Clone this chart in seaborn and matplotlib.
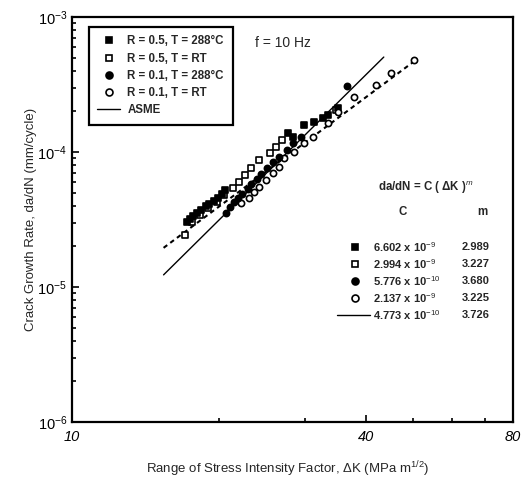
import matplotlib
matplotlib.use("Agg")
import matplotlib.pyplot as plt
from matplotlib.lines import Line2D
from matplotlib.ticker import FixedLocator, FixedFormatter, LogLocator, NullFormatter
import pandas as pd
import seaborn as sns

# ── Data ─────────────────────────────────────────────────────────────────────
# R = 0.5, T = 288 C  (filled squares)
dk_r05_hot = [17.2, 17.45, 17.7, 18.0, 18.4, 18.8, 19.1, 19.5, 19.9, 20.3, 20.6,
              27.7, 28.4, 29.9, 31.3, 32.7, 33.5, 35.1]
rate_r05_hot = [3.03e-5, 3.2e-5, 3.36e-5, 3.55e-5, 3.72e-5, 3.95e-5, 4.12e-5,
                4.35e-5, 4.56e-5, 4.9e-5, 5.2e-5, 1.38e-4,
                1.29e-4, 1.59e-4, 1.67e-4, 1.79e-4, 1.88e-4, 2.12e-4]

# R = 0.5, T = RT  (open squares)
dk_r05_rt = [17.0, 17.6, 18.25, 19.0, 19.8, 20.5, 21.4, 22.0, 22.6, 23.3,
             24.2, 25.4, 26.2, 26.9, 34.7]
rate_r05_rt = [2.43e-5, 3.03e-5, 3.41e-5, 3.85e-5, 4.26e-5, 4.80e-5, 5.41e-5,
               5.99e-5, 6.76e-5, 7.61e-5, 8.72e-5, 9.83e-5, 1.09e-4, 1.23e-4, 2.05e-4]

# R = 0.1, T = 288 C  (filled circles)
dk_r01_hot = [20.7, 21.1, 21.5, 21.9, 22.3, 22.9, 23.3, 23.9, 24.4, 25.1,
              25.8, 26.6, 27.5, 28.4, 29.5, 36.6]
rate_r01_hot = [3.53e-5, 3.91e-5, 4.26e-5, 4.56e-5, 4.89e-5, 5.32e-5, 5.79e-5,
                6.31e-5, 6.87e-5, 7.61e-5, 8.43e-5, 9.18e-5, 1.035e-4, 1.17e-4,
                1.29e-4, 3.08e-4]

# R = 0.1, T = RT  (open circles)
dk_r01_rt = [22.2, 23.0, 23.6, 24.2, 25.0, 25.8, 26.5, 27.2, 28.5, 29.9,
             31.2, 33.5, 35.1, 37.8, 41.9, 45.0, 50.1]
rate_r01_rt = [4.19e-5, 4.56e-5, 5.05e-5, 5.50e-5, 6.20e-5, 6.99e-5, 7.74e-5,
               9.03e-5, 1.0e-4, 1.17e-4, 1.29e-4, 1.64e-4, 1.98e-4, 2.55e-4,
               3.13e-4, 3.85e-4, 4.80e-4]

# ASME reference curve and the dashed fit through the data
dk_asme = [15.4, 43.5]
rate_asme = [1.23e-5, 5.05e-4]
dk_fit = [15.4, 50.6]
rate_fit = [1.95e-5, 4.80e-4]

series_labels = ["R = 0.5, T = 288°C", "R = 0.5, T = RT",
                 "R = 0.1, T = 288°C", "R = 0.1, T = RT"]
law_C = ["6.602 x 10$^{-9}$", "2.994 x 10$^{-9}$", "5.776 x 10$^{-10}$",
         "2.137 x 10$^{-9}$", "4.773 x 10$^{-10}$"]
law_m = ["2.989", "3.227", "3.680", "3.225", "3.726"]

x_major = [10, 40, 80]
x_major_labels = ["10", "40", "80"]
x_minor = [20, 30, 50, 60, 70]
y_major = [1e-6, 1e-5, 1e-4, 1e-3]
y_major_labels = ["$\\mathit{10^{-6}}$", "$\\mathit{10^{-5}}$",
                  "$\\mathit{10^{-4}}$", "$\\mathit{10^{-3}}$"]

# ── Style ────────────────────────────────────────────────────────────────────
sns.set_theme(style="ticks")
plt.rcParams["font.family"] = ["Liberation Sans", "DejaVu Sans"]
plt.rcParams["mathtext.fontset"] = "custom"
plt.rcParams["mathtext.rm"] = "Liberation Sans"
plt.rcParams["mathtext.it"] = "Liberation Sans:italic"
plt.rcParams["mathtext.bf"] = "Liberation Sans:bold"

MARKERS = [("s", "black"), ("s", "white"), ("o", "black"), ("o", "white")]
MS = 20

fig = plt.figure(figsize=(5.32, 4.79), dpi=100)
ax = fig.add_axes([72 / 532, 57 / 479, 441 / 532, 405 / 479])

frames = [
    pd.DataFrame({"dK": dk_r05_rt, "rate": rate_r05_rt}),
    pd.DataFrame({"dK": dk_r05_hot, "rate": rate_r05_hot}),
    pd.DataFrame({"dK": dk_r01_rt, "rate": rate_r01_rt}),
    pd.DataFrame({"dK": dk_r01_hot, "rate": rate_r01_hot}),
]
order = [1, 0, 3, 2]

sns.lineplot(x=dk_fit, y=rate_fit, ax=ax, color="black", lw=1.5,
             linestyle=(0, (2.2, 1.8)), zorder=2)
sns.lineplot(x=dk_asme, y=rate_asme, ax=ax, color="black", lw=1.0, zorder=2)

for df, idx in zip(frames, order):
    mk, fc = MARKERS[idx]
    sns.scatterplot(data=df, x="dK", y="rate", ax=ax, marker=mk, s=MS,
                    color=fc, edgecolor="black", linewidth=1.2, zorder=3)

ax.set_xscale("log")
ax.set_yscale("log")
ax.set_xlim(10, 80)
ax.set_ylim(1e-6, 1e-3)

ax.xaxis.set_major_locator(FixedLocator(x_major))
ax.xaxis.set_major_formatter(FixedFormatter(x_major_labels))
ax.xaxis.set_minor_locator(FixedLocator(x_minor))
ax.xaxis.set_minor_formatter(NullFormatter())
ax.yaxis.set_major_locator(FixedLocator(y_major))
ax.yaxis.set_major_formatter(FixedFormatter(y_major_labels))
ax.yaxis.set_minor_locator(LogLocator(base=10, subs=range(2, 10)))
ax.yaxis.set_minor_formatter(NullFormatter())

ax.tick_params(axis="both", which="both", direction="in", top=False, right=False,
               colors="black", width=1.2)
ax.tick_params(axis="both", which="major", length=5, labelsize=10.5)
ax.tick_params(axis="both", which="minor", length=3)
ax.tick_params(axis="x", which="major", pad=6)
for lab in ax.get_xticklabels():
    lab.set_fontstyle("italic")

for sp in ax.spines.values():
    sp.set_linewidth(1.6)
    sp.set_color("black")

ax.set_xlabel("Range of Stress Intensity Factor, ΔK (MPa m$^{1/2}$)", fontsize=9.5)
ax.set_ylabel("Crack Growth Rate, da/dN (mm/cycle)", fontsize=9.5)
ax.xaxis.set_label_coords(0.49, -0.093)
ax.yaxis.set_label_coords(-0.08, 0.5)

# legend
handles = [Line2D([], [], ls="none", marker=MARKERS[i][0], mfc=MARKERS[i][1],
                  mec="black", mew=1.2, ms=5) for i in range(4)]
handles.append(Line2D([], [], color="black", lw=1.0))
leg = ax.legend(handles, series_labels + ["ASME"], loc="upper left",
                bbox_to_anchor=(0.038, 0.976), borderaxespad=0, frameon=True,
                fancybox=False, edgecolor="black", framealpha=1,
                prop={"weight": "bold", "size": 8.3}, handlelength=2.0,
                labelspacing=0.45, borderpad=0.75, handletextpad=0.6)
leg.get_frame().set_linewidth(1.6)

ax.text(0.415, 0.936, "f = 10 Hz", transform=ax.transAxes, fontsize=10,
        va="center", ha="left")

# growth law table
ax.text(0.694, 0.578, "da/dN = C ( ΔK )$^{m}$", transform=ax.transAxes,
        fontsize=8.3, fontweight="bold", va="center", ha="left")
ax.text(0.75, 0.519, "C", transform=ax.transAxes, fontsize=8.3,
        fontweight="bold", va="center", ha="center")
ax.text(0.93, 0.519, "m", transform=ax.transAxes, fontsize=8.3,
        fontweight="bold", va="center", ha="center")
row_y = [0.432, 0.390, 0.348, 0.306, 0.264]
for i, (c, m) in enumerate(zip(law_C, law_m)):
    y = row_y[i]
    if i < 4:
        ax.plot([0.642], [y], transform=ax.transAxes, ls="none",
                marker=MARKERS[i][0], mfc=MARKERS[i][1], mec="black",
                mew=1.2, ms=5, clip_on=False)
    else:
        ax.plot([0.601, 0.676], [y, y], transform=ax.transAxes, color="black",
                lw=1.0, clip_on=False)
    ax.text(0.683, y, c, transform=ax.transAxes, fontsize=8,
            fontweight="bold", va="center", ha="left")
    ax.text(0.884, y, m, transform=ax.transAxes, fontsize=8,
            fontweight="bold", va="center", ha="left")

fig.savefig("out.png", dpi=100)
